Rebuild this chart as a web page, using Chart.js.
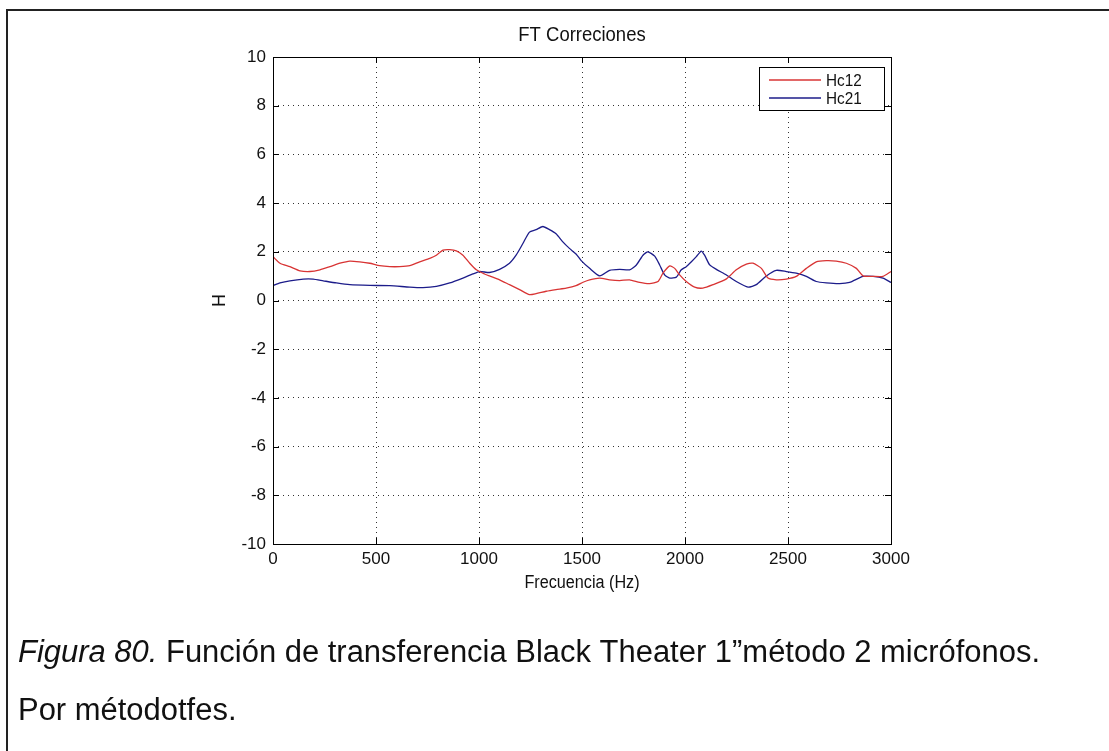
<!DOCTYPE html>
<html>
<head>
<meta charset="utf-8">
<script src="https://cdn.jsdelivr.net/npm/chart.js@4.4.1/dist/chart.umd.min.js"></script>
<style>
  html, body { margin: 0; padding: 0; background: #fff; }
  #wrap { position: relative; width: 1109px; height: 751px; }
  canvas { display: block; }
</style>
</head>
<body>
<div id="wrap"><canvas id="c" width="1109" height="751"></canvas></div>
<script>
// Frequency samples (Hz) and transfer-function values for each correction
const hc12Freq = [0, 34, 82, 131, 179, 228, 276, 325, 373, 421, 470, 518, 567, 615, 664, 712, 761, 793, 825, 858, 890, 922, 955, 987, 1019, 1051, 1100, 1148, 1197, 1245, 1277, 1326, 1374, 1423, 1471, 1505, 1537, 1586, 1634, 1683, 1731, 1780, 1828, 1869, 1893, 1926, 1950, 1974, 2006, 2047, 2087, 2136, 2201, 2249, 2298, 2330, 2371, 2403, 2443, 2492, 2540, 2589, 2637, 2686, 2734, 2783, 2832, 2864, 2913, 2961, 3000];
const hc12 = [1.80, 1.53, 1.39, 1.22, 1.19, 1.26, 1.39, 1.53, 1.62, 1.59, 1.53, 1.43, 1.39, 1.39, 1.43, 1.59, 1.73, 1.86, 2.07, 2.09, 2.04, 1.86, 1.53, 1.26, 1.12, 1.01, 0.85, 0.65, 0.45, 0.24, 0.28, 0.38, 0.45, 0.51, 0.61, 0.75, 0.85, 0.92, 0.85, 0.82, 0.85, 0.74, 0.69, 0.78, 1.12, 1.42, 1.32, 1.05, 0.78, 0.55, 0.51, 0.65, 0.89, 1.26, 1.49, 1.53, 1.32, 0.92, 0.85, 0.88, 0.99, 1.32, 1.59, 1.64, 1.62, 1.53, 1.32, 1.01, 0.99, 0.99, 1.19];

const hc21Freq = [0, 34, 82, 147, 195, 244, 308, 373, 470, 567, 664, 728, 793, 858, 922, 970, 1003, 1051, 1100, 1148, 1180, 1213, 1245, 1277, 1310, 1342, 1374, 1407, 1439, 1471, 1495, 1537, 1586, 1634, 1683, 1731, 1764, 1796, 1820, 1853, 1877, 1901, 1926, 1958, 1982, 2006, 2031, 2055, 2079, 2095, 2120, 2152, 2201, 2249, 2306, 2346, 2395, 2443, 2492, 2540, 2589, 2637, 2686, 2751, 2799, 2864, 2913, 2961, 3000];
const hc21 = [0.61, 0.72, 0.81, 0.88, 0.88, 0.81, 0.72, 0.65, 0.62, 0.61, 0.55, 0.53, 0.58, 0.72, 0.92, 1.09, 1.19, 1.15, 1.28, 1.53, 1.86, 2.34, 2.81, 2.91, 3.04, 2.91, 2.74, 2.41, 2.14, 1.91, 1.65, 1.32, 1.01, 1.24, 1.28, 1.26, 1.46, 1.86, 2.00, 1.82, 1.46, 1.05, 0.92, 0.96, 1.26, 1.39, 1.59, 1.80, 2.03, 1.86, 1.46, 1.28, 1.05, 0.78, 0.55, 0.65, 1.01, 1.24, 1.19, 1.12, 0.99, 0.78, 0.72, 0.69, 0.74, 0.99, 0.99, 0.92, 0.74];

const seriesNames = ['Hc12', 'Hc21'];
const chartTitle = 'FT Correciones';
const xTitle = 'Frecuencia (Hz)';
const yTitle = 'H';
const captionLead = 'Figura 80.';
const captionRest = ' Función de transferencia Black Theater 1”método 2 micrófonos.';
const captionLine2 = 'Por métodotfes.';

const FONT = '"Liberation Sans", Arial, Helvetica, sans-serif';
const RED = '#d83434';
const BLUE = '#1c1c8a';

const toPoints = (xs, ys) => xs.map((x, i) => ({ x: x, y: ys[i] }));

// Text drawn slightly condensed, like the narrow document typeface
function narrowText(ctx, text, x, y, sx) {
  ctx.save();
  ctx.translate(x, y);
  ctx.scale(sx, 1);
  ctx.fillText(text, 0, 0);
  ctx.restore();
}

// Draws the MATLAB-style frame, inward ticks, titles, legend and caption
const decorations = {
  id: 'decorations',
  afterDraw(chart) {
    const ctx = chart.ctx;
    const a = chart.chartArea;
    const xs = chart.scales.x, ys = chart.scales.y;
    ctx.save();

    // axes box
    ctx.strokeStyle = '#000';
    ctx.lineWidth = 1;
    ctx.strokeRect(Math.round(a.left) + 0.5, Math.round(a.top) + 0.5,
                   Math.round(a.right - a.left), Math.round(a.bottom - a.top));

    // inward tick marks on all four sides
    const tl = 6;
    ctx.beginPath();
    xs.ticks.forEach(t => {
      const px = Math.round(xs.getPixelForValue(t.value)) + 0.5;
      ctx.moveTo(px, a.bottom); ctx.lineTo(px, a.bottom - tl);
      ctx.moveTo(px, a.top); ctx.lineTo(px, a.top + tl);
    });
    ys.ticks.forEach(t => {
      const py = Math.round(ys.getPixelForValue(t.value)) + 0.5;
      ctx.moveTo(a.left, py); ctx.lineTo(a.left + tl, py);
      ctx.moveTo(a.right, py); ctx.lineTo(a.right - tl, py);
    });
    ctx.stroke();

    const cx = (a.left + a.right) / 2;
    ctx.fillStyle = '#111';
    ctx.textAlign = 'center';
    ctx.textBaseline = 'middle';

    // chart title
    ctx.font = '21px ' + FONT;
    narrowText(ctx, chartTitle, cx, 35, 0.88);

    // axis titles
    ctx.font = '18px ' + FONT;
    narrowText(ctx, xTitle, cx, 583, 0.9);
    ctx.save();
    ctx.translate(220, (a.top + a.bottom) / 2);
    ctx.rotate(-Math.PI / 2);
    ctx.fillText(yTitle, 0, 0);
    ctx.restore();

    // legend
    const lgL = 759, lgT = 67, lgR = 884, lgB = 110;
    ctx.fillStyle = '#fff';
    ctx.fillRect(lgL, lgT, lgR - lgL, lgB - lgT);
    ctx.strokeStyle = '#000';
    ctx.lineWidth = 1;
    ctx.strokeRect(lgL + 0.5, lgT + 0.5, lgR - lgL, lgB - lgT);
    ctx.font = '17px ' + FONT;
    ctx.textAlign = 'left';
    chart.data.datasets.forEach((ds, i) => {
      const y = lgT + 13 + i * 18;
      ctx.strokeStyle = ds.borderColor;
      ctx.lineWidth = 1.3;
      ctx.beginPath();
      ctx.moveTo(769, y); ctx.lineTo(821, y);
      ctx.stroke();
      ctx.fillStyle = '#111';
      narrowText(ctx, ds.label, 826, y + 1, 0.9);
    });

    // caption below the figure, set in a condensed cut
    ctx.fillStyle = '#111';
    ctx.textBaseline = 'alphabetic';
    const capSize = 31;
    ctx.font = 'italic ' + capSize + 'px ' + FONT;
    const wLead = ctx.measureText(captionLead).width;
    ctx.font = capSize + 'px ' + FONT;
    const wRest = ctx.measureText(captionRest).width;
    const sx = 1022 / (wLead + wRest);
    ctx.font = 'italic ' + capSize + 'px ' + FONT;
    narrowText(ctx, captionLead, 18, 662, sx);
    ctx.font = capSize + 'px ' + FONT;
    narrowText(ctx, captionRest, 18 + wLead * sx, 662, sx);
    narrowText(ctx, captionLine2, 18, 720, sx);

    // page frame (top and left rules)
    ctx.strokeStyle = '#222';
    ctx.lineWidth = 2;
    ctx.beginPath();
    ctx.moveTo(1109, 10); ctx.lineTo(7, 10); ctx.lineTo(7, 751);
    ctx.stroke();

    ctx.restore();
  }
};

new Chart(document.getElementById('c'), {
  type: 'line',
  data: {
    datasets: [
      { label: seriesNames[0], data: toPoints(hc12Freq, hc12), borderColor: RED, borderWidth: 1.3, pointRadius: 0, tension: 0.2, fill: false },
      { label: seriesNames[1], data: toPoints(hc21Freq, hc21), borderColor: BLUE, borderWidth: 1.3, pointRadius: 0, tension: 0.2, fill: false }
    ]
  },
  options: {
    responsive: false,
    animation: false,
    devicePixelRatio: 1,
    layout: { padding: { left: 0, right: 218, top: 57, bottom: 167 } },
    plugins: { legend: { display: false }, title: { display: false }, tooltip: { enabled: false } },
    scales: {
      x: {
        type: 'linear', min: 0, max: 3000,
        afterFit: s => { s.height = 40; },
        ticks: { stepSize: 500, color: '#111', font: { family: FONT, size: 17 }, padding: 5, maxRotation: 0,
                 callback: v => String(v) },
        grid: { color: '#333', lineWidth: 1, drawTicks: false },
        border: { display: false, dash: [1, 4] }
      },
      y: {
        min: -10, max: 10,
        afterFit: s => { s.width = 273; },
        ticks: { stepSize: 2, color: '#111', font: { family: FONT, size: 17 }, padding: 7,
                 callback: v => String(v) },
        grid: { color: '#333', lineWidth: 1, drawTicks: false },
        border: { display: false, dash: [1, 4] }
      }
    }
  },
  plugins: [decorations]
});
</script>
</body>
</html>
